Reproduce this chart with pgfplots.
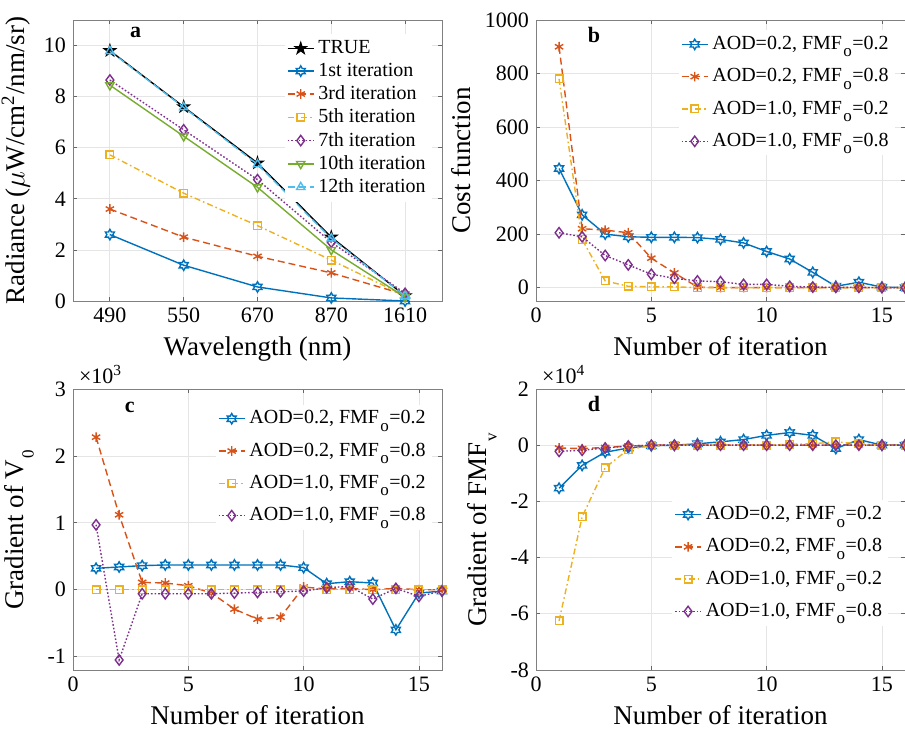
\documentclass[border=0pt]{standalone}
\usepackage{fontspec}
\setmainfont{Liberation Serif}
\usepackage{pgfplots}
\pgfplotsset{compat=1.18}

\definecolor{mblue}{HTML}{0072BD}
\definecolor{morange}{HTML}{D95319}
\definecolor{myellow}{HTML}{EDB120}
\definecolor{mpurple}{HTML}{7E2F8E}
\definecolor{mgreen}{HTML}{77AC30}
\definecolor{mcyan}{HTML}{4DBEEE}

% MATLAB style hexagram and pentagram markers
\pgfdeclareplotmark{hexagram}{%
  \pgfpathmoveto{\pgfpointpolar{90}{\pgfplotmarksize}}%
  \pgfpathlineto{\pgfpointpolar{120}{0.577\pgfplotmarksize}}%
  \pgfpathlineto{\pgfpointpolar{150}{\pgfplotmarksize}}%
  \pgfpathlineto{\pgfpointpolar{180}{0.577\pgfplotmarksize}}%
  \pgfpathlineto{\pgfpointpolar{210}{\pgfplotmarksize}}%
  \pgfpathlineto{\pgfpointpolar{240}{0.577\pgfplotmarksize}}%
  \pgfpathlineto{\pgfpointpolar{270}{\pgfplotmarksize}}%
  \pgfpathlineto{\pgfpointpolar{300}{0.577\pgfplotmarksize}}%
  \pgfpathlineto{\pgfpointpolar{330}{\pgfplotmarksize}}%
  \pgfpathlineto{\pgfpointpolar{0}{0.577\pgfplotmarksize}}%
  \pgfpathlineto{\pgfpointpolar{30}{\pgfplotmarksize}}%
  \pgfpathlineto{\pgfpointpolar{60}{0.577\pgfplotmarksize}}%
  \pgfpathclose\pgfusepathqstroke}
\pgfdeclareplotmark{pentagram}{%
  \pgfpathmoveto{\pgfpointpolar{90}{\pgfplotmarksize}}%
  \pgfpathlineto{\pgfpointpolar{126}{0.382\pgfplotmarksize}}%
  \pgfpathlineto{\pgfpointpolar{162}{\pgfplotmarksize}}%
  \pgfpathlineto{\pgfpointpolar{198}{0.382\pgfplotmarksize}}%
  \pgfpathlineto{\pgfpointpolar{234}{\pgfplotmarksize}}%
  \pgfpathlineto{\pgfpointpolar{270}{0.382\pgfplotmarksize}}%
  \pgfpathlineto{\pgfpointpolar{306}{\pgfplotmarksize}}%
  \pgfpathlineto{\pgfpointpolar{342}{0.382\pgfplotmarksize}}%
  \pgfpathlineto{\pgfpointpolar{18}{\pgfplotmarksize}}%
  \pgfpathlineto{\pgfpointpolar{54}{0.382\pgfplotmarksize}}%
  \pgfpathclose\pgfusepathqfillstroke}

\newcommand\sub[1]{\kern0.6pt\raisebox{-0.8ex}{\fontsize{8.5}{9}\selectfont #1}\kern0.3pt}

\tikzset{lettr/.style={font=\bfseries\fontsize{11}{13}\selectfont}}

\pgfplotsset{
  panel/.style={
    scale only axis, width=184.5pt, height=140.5pt, anchor=south west,
    clip mode=individual,
    axis line style={black!50}, every tick/.style={black!60}, major tick length=2pt,
    xmajorgrids, ymajorgrids, grid style={black!10, line width=0.4pt},
    tick label style={font=\fontsize{11}{13}\selectfont},
    label style={font=\fontsize{13.5}{16}\selectfont},
    /pgf/number format/assume math mode=true,
    /pgf/number format/1000 sep={},
    legend style={font=\fontsize{10}{11.5}\selectfont, draw=none, fill=white, inner sep=1pt},
    legend cell align=left,
    legend image code/.code={\draw[mark repeat=2,mark phase=2] plot coordinates {(0pt,0pt)(6.5pt,0pt)(13pt,0pt)};},
    every axis plot/.append style={line width=0.7pt},
  },
  iter/.style={xmin=0, xmax=16, xtick={0,5,10,15}, xlabel={Number of iteration},
    legend style={row sep=4pt}},
  sB/.style={mblue, solid, mark=hexagram, mark size=2.6pt, mark options={solid}},
  sO/.style={morange, dash pattern=on 3.5pt off 2pt, mark=asterisk, mark size=2.4pt, mark options={solid}},
  sY/.style={myellow, dash pattern=on 3pt off 1.5pt on 0.8pt off 1.5pt, mark=square, mark size=1.9pt, mark options={solid}},
  sP/.style={mpurple, dash pattern=on 0.8pt off 1pt, mark=diamond, mark size=2.6pt, mark options={solid}},
}

\begin{document}
\begin{tikzpicture}
\useasboundingbox (0,0) rectangle (452.5pt,-366pt);

% ---------- a ----------
\begin{axis}[panel, at={(36.5pt,-150.5pt)},
  xmin=0.5, xmax=5.5, ymin=0, ymax=11,
  xtick={1,2,3,4,5}, xticklabels={490,550,670,870,1610},
  ytick={0,2,4,6,8,10},
  xlabel={Wavelength (nm)}, ylabel={Radiance ($\mu$W/cm\textsuperscript{2}/nm/sr)},
  legend style={at={(0.973,0.95)}, anchor=north east, row sep=-0.8pt}]
\addplot[black, solid, mark=pentagram, mark size=2.8pt, mark options={solid}] coordinates {(1,9.8) (2,7.6) (3,5.4) (4,2.5) (5,0.2)};
\addplot[sB] coordinates {(1,2.6) (2,1.4) (3,0.55) (4,0.12) (5,0.0)};
\addplot[sO] coordinates {(1,3.6) (2,2.5) (3,1.75) (4,1.1) (5,0.25)};
\addplot[sY] coordinates {(1,5.72) (2,4.22) (3,2.95) (4,1.6) (5,0.2)};
\addplot[sP] coordinates {(1,8.65) (2,6.7) (3,4.75) (4,2.3) (5,0.3)};
\addplot[mgreen, solid, mark=triangle, mark size=2.4pt, mark options={solid, rotate=180}] coordinates {(1,8.45) (2,6.45) (3,4.45) (4,2.0) (5,0.15)};
\addplot[mcyan, dash pattern=on 3.5pt off 2pt, mark=triangle, mark size=2.4pt, mark options={solid}] coordinates {(1,9.78) (2,7.58) (3,5.35) (4,2.45) (5,0.2)};
\legend{TRUE,1st iteration,3rd iteration,5th iteration,7th iteration,10th iteration,12th iteration}
\node[lettr] at (rel axis cs:0.17,0.957) {a};
\end{axis}

% ---------- b ----------
\begin{axis}[panel, iter, at={(268pt,-150.5pt)},
  ymin=-50, ymax=1000, ytick={0,200,400,600,800,1000},
  ylabel={Cost function},
  legend style={at={(0.973,0.965)}, anchor=north east}]
\addplot[sB] coordinates {(1,445) (2,272) (3,200) (4,190) (5,188) (6,188) (7,187) (8,180) (9,167) (10,135) (11,107) (12,57) (13,5) (14,20) (15,2) (16,0)};
\addplot[sO] coordinates {(1,900) (2,220) (3,215) (4,205) (5,110) (6,55) (7,2) (8,0) (9,0) (10,0) (11,0) (12,0) (13,0) (14,0) (15,0) (16,0)};
\addplot[sY] coordinates {(1,780) (2,180) (3,25) (4,5) (5,3) (6,3) (7,0) (8,0) (9,0) (10,0) (11,0) (12,0) (13,0) (14,0) (15,0) (16,0)};
\addplot[sP] coordinates {(1,205) (2,190) (3,120) (4,85) (5,50) (6,35) (7,25) (8,22) (9,12) (10,12) (11,5) (12,2) (13,1) (14,1) (15,0) (16,0)};
\legend{AOD=0.2{,} FMF\sub{o}=0.2, AOD=0.2{,} FMF\sub{o}=0.8, AOD=1.0{,} FMF\sub{o}=0.2, AOD=1.0{,} FMF\sub{o}=0.8}
\node[lettr] at (rel axis cs:0.157,0.947) {b};
\end{axis}

% ---------- c ----------
\begin{axis}[panel, iter, at={(36.5pt,-335pt)},
  ymin=-1.2, ymax=3, ytick={-1,0,1,2,3},
  ylabel={Gradient of V\sub{0}},
  legend style={at={(0.973,0.946)}, anchor=north east}]
\addplot[sB] coordinates {(1,0.32) (2,0.34) (3,0.36) (4,0.37) (5,0.37) (6,0.37) (7,0.37) (8,0.37) (9,0.37) (10,0.33) (11,0.09) (12,0.12) (13,0.10) (14,-0.6) (15,-0.05) (16,-0.02)};
\addplot[sO] coordinates {(1,2.28) (2,1.12) (3,0.11) (4,0.10) (5,0.06) (6,-0.05) (7,-0.29) (8,-0.44) (9,-0.41) (10,0.04) (11,0.01) (12,0.02) (13,0) (14,0.02) (15,0) (16,0)};
\addplot[sY] coordinates {(1,0) (2,0) (3,0) (4,0) (5,0) (6,0) (7,0) (8,0) (9,0) (10,0) (11,0) (12,0) (13,0) (14,0) (15,0) (16,0)};
\addplot[sP] coordinates {(1,0.97) (2,-1.05) (3,-0.06) (4,-0.06) (5,-0.06) (6,-0.06) (7,-0.05) (8,-0.04) (9,-0.03) (10,-0.02) (11,0.03) (12,0.05) (13,-0.14) (14,0.02) (15,-0.1) (16,-0.02)};
\legend{AOD=0.2{,} FMF\sub{o}=0.2, AOD=0.2{,} FMF\sub{o}=0.8, AOD=1.0{,} FMF\sub{o}=0.2, AOD=1.0{,} FMF\sub{o}=0.8}
\node[lettr] at (rel axis cs:0.154,0.936) {c};
\node[anchor=south west, font=\fontsize{11}{13}\selectfont, inner sep=1pt] at (rel axis cs:0.01,1.01) {×10\textsuperscript{3}};
\end{axis}

% ---------- d ----------
\begin{axis}[panel, iter, at={(268pt,-335pt)},
  ymin=-8, ymax=2, ytick={-8,-6,-4,-2,0,2},
  ylabel={Gradient of FMF\sub{v}},
  legend style={at={(0.955,0.605)}, anchor=north east}]
\addplot[sB] coordinates {(1,-1.53) (2,-0.72) (3,-0.25) (4,-0.1) (5,-0.02) (6,0) (7,0.05) (8,0.12) (9,0.2) (10,0.35) (11,0.45) (12,0.35) (13,-0.12) (14,0.2) (15,0) (16,0)};
\addplot[sO] coordinates {(1,-0.1) (2,-0.12) (3,-0.08) (4,-0.03) (5,0) (6,0) (7,0) (8,0) (9,0) (10,0) (11,0) (12,0) (13,0) (14,0) (15,0) (16,0)};
\addplot[sY] coordinates {(1,-6.25) (2,-2.55) (3,-0.8) (4,-0.15) (5,-0.02) (6,0) (7,0) (8,0) (9,0) (10,0) (11,0.03) (12,0.05) (13,0.12) (14,0.05) (15,0) (16,0)};
\addplot[sP] coordinates {(1,-0.22) (2,-0.18) (3,-0.1) (4,-0.03) (5,0) (6,0) (7,0) (8,0) (9,0) (10,0) (11,0) (12,0) (13,0) (14,0) (15,0) (16,0)};
\legend{AOD=0.2{,} FMF\sub{o}=0.2, AOD=0.2{,} FMF\sub{o}=0.8, AOD=1.0{,} FMF\sub{o}=0.2, AOD=1.0{,} FMF\sub{o}=0.8}
\node[lettr] at (rel axis cs:0.157,0.946) {d};
\node[anchor=south west, font=\fontsize{11}{13}\selectfont, inner sep=1pt] at (rel axis cs:0.01,1.01) {×10\textsuperscript{4}};
\end{axis}
\end{tikzpicture}
\end{document}
